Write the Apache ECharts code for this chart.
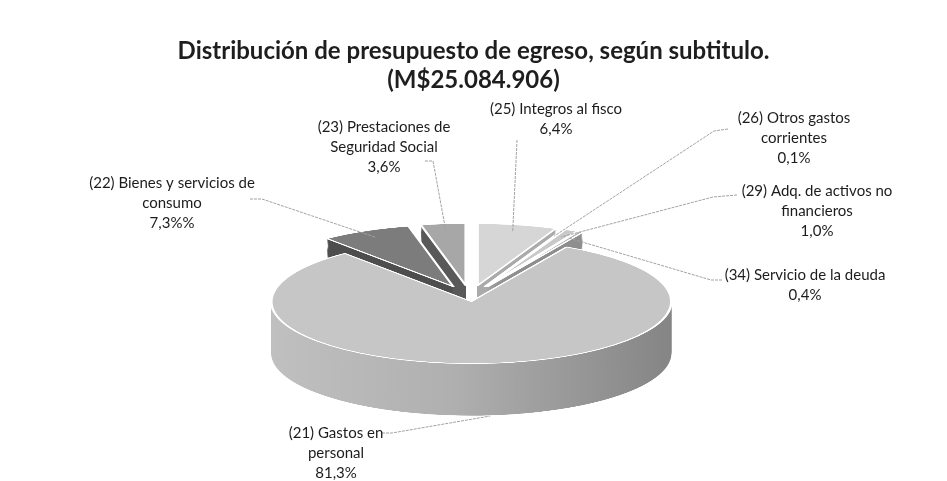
<!DOCTYPE html>
<html>
<head>
<meta charset="utf-8">
<script src="https://cdn.jsdelivr.net/npm/echarts@6/dist/echarts.min.js"></script>
<style>
  html, body { margin: 0; padding: 0; background: #fff; overflow: hidden; width: 947px; height: 481px; }
  #pie { position: absolute; left: 0; top: 0; width: 947px; transform-origin: 0 0; }
  #over { position: absolute; left: 0; top: 0; width: 947px; height: 481px; z-index: 2; }
</style>
</head>
<body>
<div id="pie"></div>
<div id="over"></div>
<script>
// ---------------- data ----------------
const titleText = 'Distribución de presupuesto de egreso, según subtitulo.';
const subtitleText = '(M$25.084.906)';
const categories = [
  '(21) Gastos en\npersonal',
  '(22) Bienes y servicios de\nconsumo',
  '(23) Prestaciones de\nSeguridad Social',
  '(25) Integros al fisco',
  '(26) Otros gastos\ncorrientes',
  '(29) Adq. de activos no\nfinancieros',
  '(34) Servicio de la deuda'
];
const values = [81.3, 7.3, 3.6, 6.4, 0.1, 1.0, 0.4];
const valueLabels = ['81,3%', '7,3%%', '3,6%', '6,4%', '0,1%', '1,0%', '0,4%'];

// ---------------- layout / style ----------------
const K = 0.31;           // vertical squash of the pie (tilt)
const CX = 470, CY = 297; // screen centre of top surface
const R = 200;            // radius (px, horizontal)
const DEPTH = 52;         // screen thickness of the pie
const EXPLODE_MAIN = 14;  // explosion of the big slice
const EXPLODE = 38;       // explosion of the small slices
const topColors  = ['#c6c6c6', '#7c7c7c', '#a7a7a7', '#d6d6d6', '#bdbdbd', '#c9c9c9', '#b3b3b3'];
const sideColors = [null, '#4e4e4e', '#5a5a5a', '#ababab', '#9a9a9a', '#9c9c9c', '#8e8e8e'];
const mainSide = {type: 'linear', x: 0, y: 0, x2: 1, y2: 0, global: false,
  colorStops: [{offset: 0, color: '#c0c0c0'}, {offset: 0.45, color: '#b0b0b0'}, {offset: 1, color: '#858585'}]};
const labelPos = [[336, 433], [172, 183], [384, 127], [556, 109], [794, 118], [817, 191], [805, 275]];
const leaderStart = [
  [[382, 433], [392, 433]],
  [[250, 199], [262, 199]],
  [[425, 161], [433, 161]],
  [[517, 140]],
  [[728, 129], [714, 131]],
  [[737, 195], [713, 197]],
  [[722, 280], [711, 280]]
];
const FONT = 'Lato, "Open Sans", sans-serif';

// ---------------- pie (tilted via CSS squash) ----------------
const H = 481 / K;
const pieDiv = document.getElementById('pie');
pieDiv.style.height = H + 'px';
pieDiv.style.transform = 'scaleY(' + K + ')';

const total = values.reduce((a, b) => a + b, 0);
const backShare = values.slice(3).reduce((a, b) => a + b, 0) / total * 360; // slices right of 12 o'clock
const startAngle = 90 - backShare;
const cyU = CY / K;
const depthU = DEPTH / K;
const STEP = 3;

// group 0 = the big slice, group 1 = the small slices (different explosion)
function pieSeries(offset, isTop, z, group) {
  return {
    type: 'pie',
    silent: true,
    animation: false,
    radius: R,
    center: [CX, cyU + offset],
    startAngle: startAngle,
    clockwise: true,
    selectedMode: 'multiple',
    selectedOffset: group === 0 ? EXPLODE_MAIN : EXPLODE,
    label: {show: false},
    labelLine: {show: false},
    emphasis: {disabled: true},
    z: z,
    data: values.map((v, i) => {
      const mine = (group === 0) === (i === 0);
      const st = !mine
        ? {color: 'rgba(0,0,0,0)', borderWidth: 0}
        : isTop
          ? {color: topColors[i], borderColor: '#ffffff', borderWidth: 2.6}
          : {color: i === 0 ? mainSide : sideColors[i], borderWidth: 0};
      return {name: categories[i], value: v, selected: mine, itemStyle: st, select: {itemStyle: st}};
    })
  };
}
const series = [];
let zi = 1;
for (let off = depthU; off > 0; off -= STEP) {
  series.push(pieSeries(off, false, zi++, 0));
  series.push(pieSeries(off, false, zi++, 1));
}
series.push(pieSeries(0, true, zi++, 0));
series.push(pieSeries(0, true, zi++, 1));

const pieChart = echarts.init(pieDiv, null, {renderer: 'canvas', width: 947, height: H});
pieChart.setOption({animation: false, backgroundColor: '#ffffff', series: series});

// ---------------- overlay: title, labels, leader lines ----------------
const graphics = [];
let cum = 0;
values.forEach((v, i) => {
  const mid = (backShare + (cum + v / 2) / total * 360) * Math.PI / 180; // clockwise from 12 o'clock
  cum += v;
  let ax, ay;
  if (i === 0) {
    const d = R + EXPLODE_MAIN;
    ax = CX + d * Math.sin(mid);
    ay = CY - d * Math.cos(mid) * K + DEPTH + 1;
  } else {
    const d = R * 0.88 + EXPLODE;
    ax = CX + d * Math.sin(mid);
    ay = CY - d * Math.cos(mid) * K;
  }
  graphics.push({
    type: 'polyline', silent: true, z: 1,
    shape: {points: leaderStart[i].concat([[ax, ay]])},
    style: {stroke: '#a2a2a2', lineWidth: 1, fill: null, lineDash: [3, 1]}
  });
  graphics.push({
    type: 'text', silent: true, z: 2,
    x: labelPos[i][0], y: labelPos[i][1] - 10,
    style: {
      text: categories[i] + '\n' + valueLabels[i],
      fill: '#1c1c1c', fontSize: 15, fontFamily: FONT, lineHeight: 20,
      align: 'center', verticalAlign: 'top', textAlign: 'center', textVerticalAlign: 'top'
    }
  });
});

const over = echarts.init(document.getElementById('over'), null, {renderer: 'canvas', width: 947, height: 481});
over.setOption({
  animation: false,
  title: {
    text: titleText + '\n' + subtitleText,
    left: 'center',
    top: 32,
    padding: [5, 15, 5, 5],
    textStyle: {fontSize: 24, fontWeight: 'bold', fontFamily: FONT, color: '#1e1e1e', lineHeight: 29}
  },
  graphic: graphics
});
</script>
</body>
</html>
